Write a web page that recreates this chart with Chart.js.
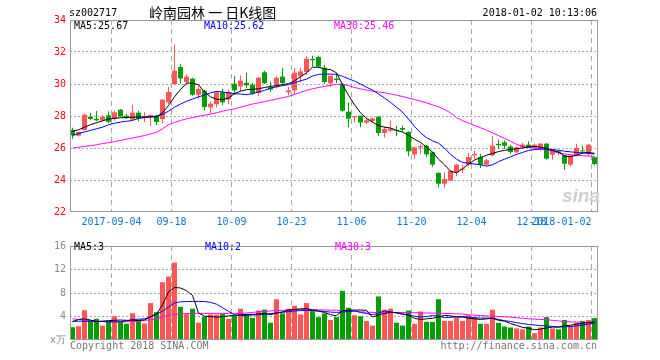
<!DOCTYPE html>
<html><head><meta charset="utf-8">
<script src="https://cdn.jsdelivr.net/npm/chart.js@4.4.1/dist/chart.umd.min.js"></script>
<style>
html,body{margin:0;padding:0;background:#fff;}
#wrap{position:relative;width:660px;height:360px;overflow:hidden;font-family:"DejaVu Sans Mono",monospace;font-size:10px;}
.t{position:absolute;white-space:pre;line-height:12px;}
canvas{position:absolute;left:0;}
</style></head><body>
<div id="wrap">
<canvas id="k" width="660" height="236" style="top:0"></canvas>
<canvas id="v" width="660" height="124" style="top:236px"></canvas>
<div class="t" style="left:69px;top:7px;color:#000">sz002717</div>
<div class="t" style="left:149px;top:3px;font-family:'Noto Sans CJK SC';font-size:14px;line-height:18px;color:#000">岭南园林 一 日K线图</div>
<div class="t" style="right:63px;top:7px;color:#000">2018-01-02 10:13:06</div>
<div class="t" style="left:74px;top:20px;color:#000">MA5:25.67</div>
<div class="t" style="left:204px;top:20px;color:#0000ff">MA10:25.62</div>
<div class="t" style="left:334px;top:20px;color:#ff00ff">MA30:25.46</div>
<div class="t" style="left:74px;top:241px;color:#000">MA5:3</div>
<div class="t" style="left:205px;top:241px;color:#0000ff">MA10:2</div>
<div class="t" style="left:335px;top:241px;color:#ff00ff">MA30:3</div>
<div class="t" style="left:70px;top:340px;color:#777">Copyright 2018 SINA.COM</div>
<div class="t" style="right:63px;top:340px;color:#777">http://finance.sina.com.cn</div>
<div class="t" style="left:562px;top:186px;font-family:'Liberation Sans';font-style:italic;font-weight:bold;font-size:19px;line-height:20px;color:#cfcfcf">sina</div>
</div>
<script>
const dates = ['2017-08-24','2017-08-25','2017-08-28','2017-08-29','2017-08-30','2017-08-31',
'2017-09-01','2017-09-04','2017-09-05','2017-09-06','2017-09-07','2017-09-08','2017-09-11','2017-09-12','2017-09-13','2017-09-14','2017-09-15','2017-09-18','2017-09-19','2017-09-20','2017-09-21','2017-09-22','2017-09-25','2017-09-26','2017-09-27','2017-09-28','2017-09-29',
'2017-10-09','2017-10-10','2017-10-11','2017-10-12','2017-10-13','2017-10-16','2017-10-17','2017-10-18','2017-10-19','2017-10-20','2017-10-23','2017-10-24','2017-10-25','2017-10-26','2017-10-27','2017-10-30','2017-10-31',
'2017-11-01','2017-11-02','2017-11-03','2017-11-06','2017-11-07','2017-11-08','2017-11-09','2017-11-10','2017-11-13','2017-11-14','2017-11-15','2017-11-16','2017-11-17','2017-11-20','2017-11-21','2017-11-22','2017-11-23','2017-11-24','2017-11-27','2017-11-28','2017-11-29','2017-11-30',
'2017-12-01','2017-12-04','2017-12-05','2017-12-06','2017-12-07','2017-12-08','2017-12-11','2017-12-12','2017-12-13','2017-12-14','2017-12-15','2017-12-18','2017-12-19','2017-12-20','2017-12-21','2017-12-22','2017-12-25','2017-12-26','2017-12-27','2017-12-28','2017-12-29',
'2018-01-02'];

const tickText = ['2017-09-04','09-18','10-09','10-23','11-06','11-20','12-04','12-18','2018-01-02'];
const tickDates = ['2017-09-04','2017-09-18','2017-10-09','2017-10-23','2017-11-06','2017-11-20','2017-12-04','2017-12-18','2018-01-02'];

const open = [27.14,26.77,27.12,27.96,27.83,27.73,28.04,27.83,28.39,28.02,
27.77,28.21,27.87,27.94,27.98,27.81,28.85,30.00,31.06,30.12,
30.33,29.33,29.58,28.54,28.73,29.48,29.02,30.02,29.85,30.08,
29.94,29.44,30.73,29.79,29.85,30.46,29.48,29.60,30.48,30.75,
31.56,31.69,31.02,30.04,30.33,30.00,28.27,27.92,28.02,27.58,
27.69,27.96,26.94,27.08,27.12,27.25,27.00,25.60,26.04,26.14,
25.73,24.44,23.77,23.96,24.48,24.64,24.96,25.54,25.44,24.96,
25.54,26.25,26.35,26.10,25.73,26.04,26.21,26.00,25.94,26.27,
25.58,25.79,25.54,24.96,25.54,25.85,25.69,25.42];
const high = [27.27,27.04,28.14,28.21,28.31,28.08,28.29,28.35,28.44,28.14,
28.71,28.33,28.23,28.10,28.08,29.06,29.81,32.46,31.27,30.60,
30.39,29.85,29.64,28.92,29.54,29.69,29.64,30.52,30.52,30.71,
30.08,30.44,30.83,30.15,30.48,31.02,29.81,31.00,31.02,31.73,
31.77,31.77,31.21,30.52,30.69,30.06,28.85,28.00,28.02,27.85,
27.92,27.96,27.35,27.71,27.39,27.39,27.04,26.08,26.23,26.19,
25.77,24.48,24.48,24.60,25.02,24.96,25.69,25.85,25.64,25.31,
26.73,26.52,26.48,26.21,26.10,26.31,26.42,26.27,26.31,26.31,
25.94,25.85,25.58,25.58,26.27,26.14,26.27,25.44];
const low = [26.58,26.73,27.08,27.73,27.67,27.67,27.56,27.71,27.94,27.81,
27.73,27.67,27.62,27.37,27.44,27.54,28.75,29.96,30.02,30.04,
29.27,29.08,28.35,28.17,28.54,28.67,28.73,29.33,29.54,29.75,
29.33,29.23,30.00,29.52,29.73,29.96,29.29,29.33,30.10,30.58,
31.10,31.00,30.00,29.81,30.06,28.27,27.29,27.60,27.29,27.48,
27.60,26.73,26.66,26.98,26.73,27.00,25.48,25.31,25.60,25.44,
24.83,23.54,23.48,23.92,24.23,24.44,24.85,25.31,24.75,24.90,
25.48,25.94,25.94,25.64,25.69,25.96,26.00,25.90,25.85,25.27,
25.27,25.58,24.64,24.85,25.48,25.69,25.52,24.92];
const close = [26.79,27.00,28.08,27.81,27.73,27.96,27.64,28.23,27.98,27.89,
28.21,27.83,27.98,28.06,27.62,29.02,29.50,30.83,30.35,30.46,
29.33,29.69,28.56,28.77,29.48,28.85,29.50,29.60,30.21,29.92,
29.40,30.39,30.06,29.65,30.39,30.06,29.60,30.71,30.79,31.58,
31.48,31.10,30.12,30.52,30.25,28.33,27.83,28.00,27.60,27.73,
27.85,26.94,27.19,27.21,27.06,27.14,25.79,26.04,26.12,25.60,
24.96,23.77,24.06,24.58,24.96,24.71,25.44,25.62,24.96,25.23,
26.14,26.17,26.14,25.75,26.04,26.21,26.04,26.21,26.27,25.33,
25.90,25.69,25.02,25.54,26.00,25.79,26.21,25.00];

const ma5 = [27.04,27.14,27.30,27.46,27.58,27.70,27.81,27.86,27.89,27.90,
27.92,27.94,27.94,27.94,27.94,28.20,28.65,29.20,29.65,30.05,
30.06,29.95,29.50,29.20,29.05,29.03,29.12,29.40,29.55,29.65,
29.67,29.70,29.78,29.85,29.90,29.96,30.02,30.20,30.45,30.70,
31.05,31.05,30.94,30.90,30.70,29.95,29.30,28.70,28.20,27.85,
27.62,27.40,27.30,27.25,27.10,27.00,26.80,26.55,26.35,26.05,
25.75,25.30,24.95,24.55,24.45,24.70,25.00,25.25,25.40,25.55,
25.65,25.78,25.85,25.92,25.95,26.00,26.08,26.10,26.05,25.98,
25.85,25.75,25.50,25.45,25.55,25.68,25.72,25.67];
const ma10 = [26.79,26.90,27.00,27.10,27.20,27.30,27.45,27.55,27.62,27.67,
27.72,27.85,27.90,27.95,28.00,28.10,28.30,28.55,28.75,28.92,
29.06,29.20,29.30,29.45,29.54,29.50,29.45,29.40,29.37,29.33,
29.40,29.50,29.60,29.75,29.82,29.90,29.96,30.08,30.20,30.30,
30.50,30.60,30.62,30.62,30.60,30.48,30.33,30.18,30.00,29.80,
29.62,29.38,29.12,28.85,28.55,28.25,27.80,27.35,26.95,26.65,
26.45,26.30,26.00,25.60,25.30,25.10,25.05,25.00,24.95,24.87,
24.95,25.15,25.30,25.45,25.60,25.72,25.85,25.90,25.93,25.92,
25.90,25.86,25.80,25.76,25.72,25.70,25.66,25.62];
const ma30 = [26.00,26.05,26.10,26.15,26.20,26.28,26.33,26.40,26.47,26.55,
26.62,26.70,26.78,26.88,26.98,27.20,27.45,27.60,27.72,27.82,
27.90,27.98,28.05,28.12,28.20,28.30,28.38,28.45,28.55,28.65,
28.75,28.82,28.90,28.98,29.06,29.14,29.22,29.35,29.48,29.60,
29.70,29.78,29.85,29.92,29.98,30.00,29.90,29.78,29.70,29.62,
29.55,29.50,29.45,29.38,29.30,29.22,29.12,29.03,28.93,28.82,
28.70,28.58,28.40,28.20,27.90,27.71,27.56,27.41,27.27,27.11,
26.95,26.78,26.60,26.42,26.23,26.10,26.02,26.00,25.95,25.90,
25.80,25.70,25.63,25.58,25.55,25.52,25.50,25.46];

const vol = [2.18,2.34,5.06,3.36,3.62,2.45,3.25,4.05,3.10,2.77,
4.55,3.40,2.80,6.29,4.74,9.84,10.80,13.17,5.65,4.40,
5.33,2.95,3.92,4.35,4.32,4.45,3.60,4.10,5.33,4.43,
3.78,5.01,5.17,2.93,6.93,4.53,5.33,5.81,4.37,6.29,
4.90,3.89,4.53,3.41,3.89,8.37,5.49,4.21,4.05,3.25,
2.45,7.41,5.17,5.33,2.93,2.45,5.01,2.77,4.85,3.09,
3.09,6.93,3.25,3.25,3.73,3.25,4.21,3.89,2.77,2.77,
5.17,2.93,2.29,2.13,1.97,1.81,2.29,1.17,2.13,3.89,
1.97,1.81,3.41,2.29,2.93,3.25,3.41,3.73];
const vma5 = [3.10,3.50,3.60,3.40,3.10,3.20,3.30,3.35,3.40,3.35,
3.35,3.35,3.40,4.00,4.40,6.00,8.20,8.95,8.85,8.40,
7.60,4.60,4.05,4.00,3.90,3.95,4.10,4.20,4.30,4.35,
4.35,4.45,4.50,4.30,4.60,4.80,5.10,5.20,5.30,5.35,
5.10,4.90,4.70,4.30,4.15,5.00,5.05,5.10,5.10,5.05,
3.90,4.30,4.50,4.70,4.65,4.40,4.20,3.70,3.50,3.60,
3.70,3.90,4.20,4.10,3.90,3.90,3.70,3.60,3.50,3.60,
3.70,3.35,3.20,2.80,2.50,2.15,2.00,1.75,1.85,2.05,
2.20,2.20,2.45,2.50,2.70,2.85,2.95,3.10];
const vma10 = [3.20,3.20,3.20,3.20,3.20,3.15,3.10,3.10,3.10,3.25,
3.50,3.55,3.60,3.90,4.40,4.90,5.60,6.30,6.50,6.55,
6.55,6.56,6.55,6.40,6.10,5.50,4.90,4.30,4.16,4.20,
4.25,4.30,4.40,4.50,4.60,4.70,4.85,4.95,5.00,5.06,
5.00,4.95,4.85,4.75,4.70,4.75,4.85,4.95,4.70,4.50,
4.30,4.60,4.95,4.80,4.60,4.45,4.30,4.05,3.90,4.00,
4.15,4.10,3.80,3.85,3.95,4.00,3.90,3.80,3.73,3.73,
3.72,3.50,3.30,3.15,2.95,2.80,2.65,2.55,2.45,2.40,
2.30,2.20,2.25,2.30,2.40,2.55,2.70,2.85];
const vma30 = [3.60,3.50,3.40,3.30,3.20,3.15,3.10,3.10,3.10,3.10,
3.10,3.20,3.35,3.45,3.60,3.90,4.20,4.35,4.45,4.50,
4.53,4.53,4.53,4.53,4.53,4.53,4.53,4.53,4.55,4.60,
4.70,4.80,4.85,4.95,5.00,5.05,5.10,5.15,5.20,5.22,
5.20,5.15,5.10,5.08,5.06,5.00,4.95,4.90,4.80,4.75,
4.70,4.68,4.68,4.69,4.69,4.69,4.69,4.65,4.60,4.60,
4.58,4.55,4.53,4.50,4.45,4.40,4.30,4.22,4.16,4.10,
4.05,4.00,3.95,3.89,3.80,3.70,3.60,3.55,3.50,3.46,
3.35,3.25,3.15,3.09,3.05,3.00,2.97,2.93];

const priceTicks = [22,24,26,28,30,32,34];
const volTicks = [0,4,8,12,16];

const UP = '#ff5555', DOWN = '#00a000';
const MONO = {family:'DejaVu Sans Mono', size:10};
const tickIdx = tickDates.map(d => dates.indexOf(d));
const colors = dates.map((d,i) => close[i] >= open[i] ? UP : DOWN);
const xMin = -5/12, xMax = dates.length - 1 + 7/12;

const frame = {
  id:'frame',
  afterDraw(chart){
    const a = chart.chartArea, c = chart.ctx;
    c.save(); c.strokeStyle = '#999'; c.lineWidth = 1;
    c.strokeRect(Math.round(a.left)+0.5, Math.round(a.top)+0.5, Math.round(a.right-a.left)-1, Math.round(a.bottom-a.top)-1);
    c.restore();
  }
};

function xScale(showLabels){
  return {
    type:'linear', min:xMin, max:xMax, offset:false, bounds:'data',
    afterBuildTicks: s => { s.ticks = tickIdx.map(i => ({value: i - 0.5})); },
    afterFit: s => { s.height = showLabels ? 24 : 0; s.paddingLeft = 0; s.paddingRight = 0; },
    grid:{offset:false, drawTicks:false, color:'#aaa', lineWidth:1},
    border:{display:false, dash:[5,4]},
    ticks:{display:showLabels, autoSkip:false, maxRotation:0, minRotation:0, padding:4, color:'#0a78cc', font:MONO,
      callback: v => {
        const k = tickIdx.indexOf(Math.round(v + 0.5));
        if (k < 0) return '';
        return k === tickIdx.length - 1 ? tickText[k] + ' '.repeat(10) : tickText[k];
      }}
  };
}
function line(arr, col){
  return {type:'line', data: arr.map((v,i)=>({x:i,y:v})), borderColor:col, borderWidth:1, pointRadius:0, tension:0, order:0};
}

new Chart(document.getElementById('k'), {
  type:'bar',
  data:{datasets:[
    line(ma5,'#000000'), line(ma10,'#0000ff'), line(ma30,'#ff00ff'),
    {data: open.map((o,i)=>({x:i, y:[o, close[i]]})), backgroundColor:colors, barThickness:5, grouped:false, minBarLength:1, borderWidth:0, inflateAmount:0, order:1},
    {data: low.map((l,i)=>({x:i, y:[l, high[i]]})), backgroundColor:colors, barThickness:1, grouped:false, borderWidth:0, inflateAmount:0, order:2}
  ]},
  options:{
    responsive:false, animation:false, devicePixelRatio:1,
    layout:{padding:{top:20, right:62, left:0, bottom:0}},
    plugins:{legend:{display:false}, tooltip:{enabled:false}},
    scales:{
      x: xScale(true),
      y:{type:'linear', min:priceTicks[0], max:priceTicks[priceTicks.length-1], beginAtZero:false,
        afterBuildTicks: s => { s.ticks = priceTicks.map(v => ({value:v})); },
        afterFit: s => { s.width = 70; },
        grid:{drawTicks:false, color: c => (c.tick && (c.tick.value === priceTicks[0] || c.tick.value === priceTicks[priceTicks.length-1])) ? 'rgba(0,0,0,0)' : '#aaa'},
        border:{display:false, dash:[2,2]},
        ticks:{padding:4, color:'#ff0000', font:MONO}}
    }
  },
  plugins:[frame]
});

new Chart(document.getElementById('v'), {
  type:'bar',
  data:{datasets:[
    line(vma5,'#000000'), line(vma10,'#0000ff'), line(vma30,'#ff00ff'),
    {data: vol.map((v,i)=>({x:i, y:v})), backgroundColor:colors, barThickness:5, borderWidth:0, inflateAmount:0, order:1}
  ]},
  options:{
    responsive:false, animation:false, devicePixelRatio:1,
    layout:{padding:{top:4, right:62, left:0, bottom:20}},
    plugins:{legend:{display:false}, tooltip:{enabled:false}},
    scales:{
      x: xScale(false),
      y:{type:'linear', min:volTicks[0], max:volTicks[volTicks.length-1],
        afterBuildTicks: s => { s.ticks = volTicks.map(v => ({value:v})); },
        afterFit: s => { s.width = 70; },
        grid:{drawTicks:false, color: c => (c.tick && (c.tick.value === volTicks[0] || c.tick.value === volTicks[volTicks.length-1])) ? 'rgba(0,0,0,0)' : '#aaa'},
        border:{display:false, dash:[2,2]},
        ticks:{padding:4, color:'#888', font:MONO, callback: v => v === 0 ? 'x万' : String(v)}}
    }
  },
  plugins:[frame]
});
</script>
</body></html>
